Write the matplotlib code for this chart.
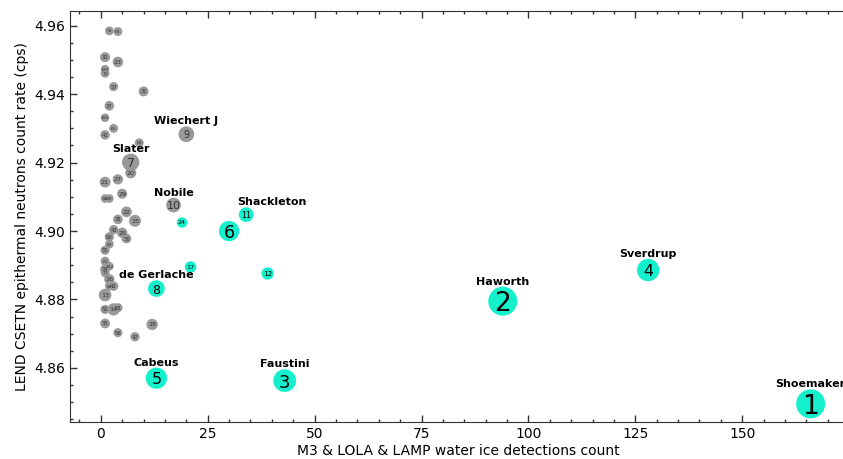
import matplotlib.pyplot as plt
from matplotlib.ticker import MultipleLocator

# crater rank, detections count, LEND count rate, highlighted (water ice confirmed)
ranks = [1, 2, 3, 4, 5, 6, 7, 8, 9, 10, 11, 12, 13, 14, 15, 17, 18, 20, 21, 22,
         23, 24, 25, 26, 27, 29, 30, 31, 33, 34, 36, 37, 38, 41, 42, 43, 47, 50,
         52, 53, 55, 56, 57, 61, 63, 65, 69, 71, 72, 75, 80, 84, 88, 89, 102,
         104, 120]
detections = [166, 94, 43, 128, 13, 30, 7, 13, 20, 17, 34, 39, 1, 3, 8, 21, 12, 7,
              1, 6, 4, 19, 5, 2, 4, 5, 1, 10, 1, 1, 6, 2, 4, 1, 3, 3, 8, 2,
              1, 4, 1, 4, 3, 1, 4, 3, 9, 1, 1, 2, 2, 2, 1, 2, 2,
              1, 1]
count_rate = [4.8495, 4.8795, 4.8563, 4.8886, 4.8570, 4.9000, 4.9201, 4.8832,
              4.9283, 4.9076, 4.9048, 4.8876, 4.8813, 4.8771, 4.9030, 4.8895,
              4.8727, 4.9170, 4.9143, 4.9056, 4.9494, 4.9025, 4.8995, 4.8859,
              4.9151, 4.9109, 4.9508, 4.9408, 4.8730, 4.8888, 4.8978, 4.9366,
              4.9034, 4.9281, 4.8839, 4.9004, 4.8691, 4.8983, 4.8771, 4.8776,
              4.8944, 4.8703, 4.9422, 4.8912, 4.9583, 4.9300, 4.9258, 4.8878,
              4.9461, 4.9585, 4.8962, 4.8839, 4.9095, 4.9095, 4.8897, 4.9331,
              4.9473]
highlighted = [1, 2, 3, 4, 5, 6, 8, 11, 12, 17, 24]

crater_names = {1: 'Shoemaker', 2: 'Haworth', 3: 'Faustini', 4: 'Sverdrup',
                5: 'Cabeus', 7: 'Slater', 8: 'de Gerlache', 9: 'Wiechert J',
                10: 'Nobile', 11: 'Shackleton'}

CYAN = '#14f0cc'
GRAY = '#999999'
DPI = 100
PX = 72.0 / DPI  # points per pixel


def marker_diam(rank):
    # marker diameter in pixels, shrinking with rank
    top = {1: 29, 2: 29, 3: 22.7, 4: 22.3, 5: 21.3, 6: 20.3, 7: 17.3,
           8: 16.7, 9: 15.7, 10: 14.7, 11: 14.7, 12: 12.3}
    return top.get(rank, 8 + 60.0 / rank)


def number_size(rank):
    top = {1: 19, 2: 19, 3: 13, 4: 11.5, 5: 11.5, 6: 12.5, 7: 9, 8: 9,
           9: 7, 10: 8, 11: 5.8, 12: 5.2}
    if rank in top:
        return top[rank]
    if rank < 30:
        return 4.6
    if rank < 60:
        return 3.8
    return 3.2


fig = plt.figure(figsize=(8.43, 4.59), dpi=DPI)
ax = fig.add_axes([70 / 843, 37 / 459, 777 / 843, 411 / 459])

# draw from the highest rank down so the top craters end up on top
for rank, x, y in sorted(zip(ranks, detections, count_rate), reverse=True):
    color = CYAN if rank in highlighted else GRAY
    d = marker_diam(rank)
    ax.scatter([x], [y], s=(d * PX) ** 2, color=color, edgecolors='none',
               zorder=2)
    ax.text(x, y, str(rank), ha='center', va='center_baseline',
            fontsize=number_size(rank), color='black' if rank in highlighted else '#333333',
            zorder=3)
    if rank in crater_names:
        dx = 26 if rank == 11 else 0
        ax.annotate(crater_names[rank], (x, y),
                    xytext=(dx * PX, (d / 2 + 2) * PX), textcoords='offset points',
                    ha='center', va='baseline', fontsize=8, fontweight='bold',
                    zorder=4, annotation_clip=False)

ax.set_xlim(-7.2, 174.5)
ax.set_ylim(4.8442, 4.9643)

ax.xaxis.set_major_locator(MultipleLocator(25))
ax.xaxis.set_minor_locator(MultipleLocator(5))
ax.yaxis.set_major_locator(MultipleLocator(0.02))
ax.yaxis.set_minor_locator(MultipleLocator(0.005))
ax.yaxis.set_major_formatter(plt.FormatStrFormatter('%.2f'))

ax.tick_params(which='both', direction='in', top=True, right=False,
               labelsize=10, color='#333333', width=1)
ax.tick_params(which='major', length=5)
ax.tick_params(which='minor', length=2.5)

for side in ['left', 'bottom', 'top']:
    ax.spines[side].set_color('#333333')
ax.spines['right'].set_visible(False)

ax.set_xlabel('M3 & LOLA & LAMP water ice detections count', fontsize=10, labelpad=2)
ax.set_ylabel('LEND CSETN epithermal neutrons count rate (cps)', fontsize=10)

fig.savefig('out.png', dpi=DPI)
